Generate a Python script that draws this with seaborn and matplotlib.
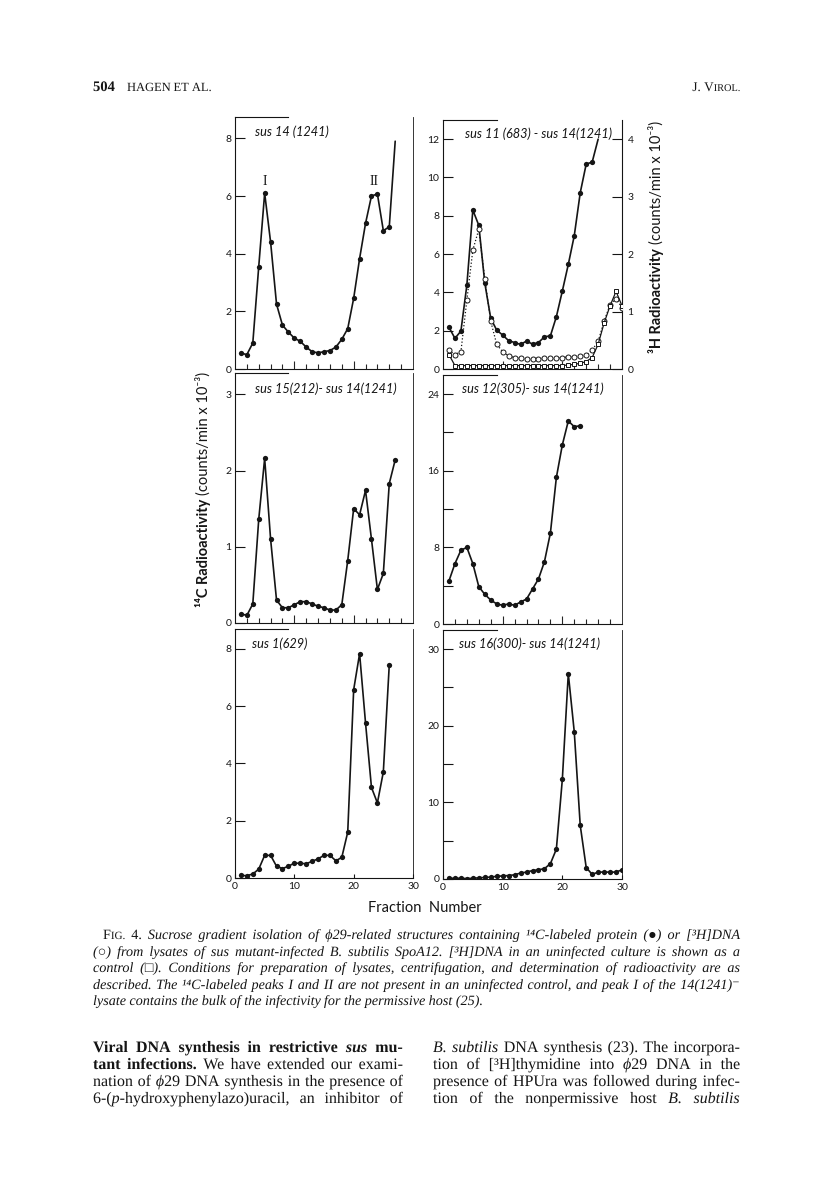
import matplotlib
matplotlib.use('Agg')
import matplotlib.pyplot as plt
import matplotlib.patheffects as pe
import seaborn as sns

# values (counts/min x 10^-3 per fraction)
frac_14 = list(range(1, 28))
c14_sus14 = [0.55, 0.5, 0.9, 3.55, 6.1, 4.4, 2.25, 1.52, 1.28, 1.07, 0.96, 0.76, 0.6, 0.56, 0.6,
             0.64, 0.76, 1.03, 1.4, 2.45, 3.83, 5.05, 6.0, 6.07, 4.8, 4.93, 7.9]

frac_11 = list(range(1, 27))
c14_sus11 = [2.18, 1.6, 1.98, 4.38, 8.3, 7.5, 4.5, 2.64, 2.03, 1.77, 1.48, 1.38, 1.28, 1.46, 1.3,
             1.38, 1.68, 1.73, 2.73, 4.07, 5.46, 6.96, 9.2, 10.7, 10.8, 12.0]
frac_3h = list(range(1, 31))
h3_sus11 = [0.33, 0.25, 0.3, 1.2, 2.07, 2.43, 1.57, 0.83, 0.43, 0.3, 0.23, 0.2, 0.19, 0.18, 0.18,
            0.18, 0.19, 0.19, 0.19, 0.2, 0.21, 0.21, 0.23, 0.24, 0.33, 0.48, 0.83, 1.12, 1.22, 1.07]
h3_control = [0.25, 0.06, 0.06, 0.06, 0.06, 0.06, 0.06, 0.06, 0.06, 0.06, 0.06, 0.06, 0.06, 0.06, 0.06,
              0.06, 0.06, 0.06, 0.06, 0.06, 0.07, 0.08, 0.1, 0.13, 0.2, 0.43, 0.8, 1.1, 1.35, 1.1]

frac_15 = list(range(1, 28))
c14_sus15 = [0.12, 0.1, 0.25, 1.36, 2.16, 1.1, 0.3, 0.2, 0.2, 0.24, 0.28, 0.28, 0.25, 0.22, 0.2,
             0.17, 0.17, 0.24, 0.82, 1.5, 1.42, 1.74, 1.1, 0.44, 0.65, 1.83, 2.14]

frac_12 = list(range(1, 24))
c14_sus12 = [4.5, 6.3, 7.7, 8.0, 6.3, 3.9, 3.1, 2.5, 2.1, 1.95, 2.1, 1.95, 2.3, 2.6, 3.65,
             4.7, 6.5, 9.5, 15.3, 18.7, 21.2, 20.6, 20.7]

frac_1 = list(range(1, 27))
c14_sus1 = [0.09, 0.08, 0.14, 0.31, 0.79, 0.79, 0.41, 0.33, 0.41, 0.52, 0.51, 0.5, 0.58, 0.67, 0.79,
            0.79, 0.6, 0.72, 1.6, 6.57, 7.83, 5.41, 3.16, 2.62, 3.7, 7.44]

frac_16 = list(range(1, 31))
c14_sus16 = [0.1, 0.1, 0.1, 0.05, 0.1, 0.15, 0.2, 0.25, 0.35, 0.4, 0.45, 0.55, 0.78, 0.9, 1.1,
             1.2, 1.35, 2.0, 3.9, 13.0, 26.8, 19.2, 7.0, 1.5, 0.6, 0.9, 0.9, 0.9, 0.9, 1.2]

titles = ['sus 14 (1241)', 'sus 11 (683) - sus 14(1241)', 'sus 15(212)- sus 14(1241)',
          'sus 12(305)- sus 14(1241)', 'sus 1(629)', 'sus 16(300)- sus 14(1241)']

sns.set_style('white')
plt.rcParams['font.family'] = ['Lato', 'DejaVu Sans']
plt.rcParams['axes.linewidth'] = 0.8
SERIF = ['Liberation Serif', 'DejaVu Serif', 'DejaVu Sans']
INK = '#151515'

W, H = 816, 1196
fig = plt.figure(figsize=(W / 100, H / 100), dpi=100)


def page_axes(x0, y0, x1, y1):
    return fig.add_axes([x0 / W, 1 - y1 / H, (x1 - x0) / W, (y1 - y0) / H])


def ptext(x, y, s, **kw):
    return fig.text(x / W, 1 - y / H, s, color=INK, **kw)


def curve(ax, x, y, n_marked=None, **kw):
    n = len(x) if n_marked is None else n_marked
    sns.lineplot(x=x, y=y, ax=ax, color=INK, linewidth=1.2, marker='o', markersize=3.8,
                 markeredgewidth=0, markevery=list(range(n)), **kw)


def style(ax, ymax, yticks, ylabels, bottom):
    ax.set_xlim(0, 30)
    ax.set_ylim(0, ymax)
    ax.set_yticks(yticks)
    ax.set_yticklabels(ylabels)
    ax.set_xlabel('')
    ax.set_ylabel('')
    ax.tick_params(axis='y', direction='in', length=7, width=0.8, pad=2.5,
                   labelsize=7.5, colors=INK, left=True)
    if bottom:
        ax.set_xticks([0, 10, 20, 30])
        ax.set_xticklabels(['0', '10', '20', '30'])
        ax.tick_params(axis='x', direction='in', length=3, width=0.8, pad=3,
                       labelsize=7.5, colors=INK, bottom=True)
    else:
        ax.set_xticks([10, 20])
        ax.set_xticklabels([])
        ax.set_xticks(range(2, 30, 2), minor=True)
        ax.tick_params(axis='x', which='major', direction='in', length=6, width=0.8, bottom=True)
        ax.tick_params(axis='x', which='minor', direction='in', length=3.5, width=0.8, bottom=True)
    for s in ax.spines.values():
        s.set_color(INK)
    ax.spines['top'].set_bounds(0, 9)
    ax.spines['right'].set_linewidth(0.6)
    ax.patch.set_alpha(0)


# top left
ax1 = page_axes(235, 117, 413, 369)
curve(ax1, frac_14, c14_sus14, n_marked=26)
style(ax1, 8.74, [0, 2, 4, 6, 8], ['0', '2', '4', '6', '8'], False)
ax1.text(5, 6.5, 'I', family='Liberation Serif', fontsize=10, ha='center', va='center', color=INK)
ax1.text(23.5, 6.5, 'II', family='Liberation Serif', fontsize=10, ha='center', va='center', color=INK)

# top right (14C left axis, 3H right axis)
ax2 = page_axes(443, 120, 622, 369)
curve(ax2, frac_11, c14_sus11, n_marked=25)
style(ax2, 13.0, range(0, 13, 2), [str(v) for v in range(0, 13, 2)], False)
ax2r = ax2.twinx()
sns.lineplot(x=frac_3h, y=h3_sus11, ax=ax2r, color=INK, linewidth=0.9, linestyle=':',
             marker='o', markersize=3.6, markerfacecolor='white', markeredgecolor=INK,
             markeredgewidth=0.7)
sns.lineplot(x=frac_3h, y=h3_control, ax=ax2r, color=INK, linewidth=0.9, linestyle='-',
             marker='s', markersize=3.2, markerfacecolor='white', markeredgecolor=INK,
             markeredgewidth=0.7)
ax2r.set_ylim(0, 13.0 / 3)
ax2r.set_yticks([0, 1, 2, 3, 4])
ax2r.set_yticklabels(['0', '1', '2', '3', '4'])
ax2r.set_ylabel('')
ax2r.tick_params(axis='y', direction='in', length=7, width=0.8, pad=4, labelsize=7.5,
                 colors=INK, right=True)
for s in ax2r.spines.values():
    s.set_visible(False)
ax2.spines['right'].set_linewidth(0.8)

# middle
ax3 = page_axes(235, 373, 413, 623)
curve(ax3, frac_15, c14_sus15)
style(ax3, 3.28, [0, 1, 2, 3], ['0', '1', '2', '3'], False)

ax4 = page_axes(443, 375, 622, 624)
curve(ax4, frac_12, c14_sus12)
style(ax4, 26.0, [0, 4, 8, 12, 16, 20, 24], ['0', '', '8', '', '16', '', '24'], False)

# bottom
ax5 = page_axes(235, 629, 413, 878)
curve(ax5, frac_1, c14_sus1)
style(ax5, 8.69, [0, 2, 4, 6, 8], ['0', '2', '4', '6', '8'], True)

ax6 = page_axes(443, 630, 622, 879)
curve(ax6, frac_16, c14_sus16)
style(ax6, 32.5, range(0, 31, 5), ['0', '', '10', '', '20', '', '30'], True)

# panel titles
for (x, y), t in zip([(255, 132), (465, 134), (255, 389), (462, 389), (252, 644), (459, 644)], titles):
    ptext(x, y, t, fontsize=9.2, style='italic', va='center', ha='left')

# axis labels
ptext(203, 499, '¹⁴C Radioactivity', fontsize=10.5, weight='bold', rotation=90, ha='center', va='top')
ptext(203, 495, '(counts/min x 10⁻³)', fontsize=10.5, rotation=90, ha='center', va='bottom')
ptext(656, 248, '³H Radioactivity', fontsize=10.5, weight='bold', rotation=90, ha='center', va='top')
ptext(656, 244, '(counts/min x 10⁻³)', fontsize=10.5, rotation=90, ha='center', va='bottom')
ptext(425, 908, 'Fraction  Number', fontsize=10.5, ha='center', va='center')

renderer = fig.canvas.get_renderer()


def put_line(words, x0, x1, y, size, style='normal', weight='normal', justify=True, right=False):
    groups = []
    for w in words:
        pieces = w if isinstance(w, list) else [(w, {})]
        g = []
        for s, kw in pieces:
            fam = 'Liberation Serif' if all(ord(c) < 256 for c in s) else SERIF
            # drawn as paths so every word sits on the same baseline
            t = ptext(0, y, s, family=fam, fontsize=kw.get('size', size),
                      style=kw.get('style', style), weight=kw.get('weight', weight),
                      va='baseline', ha='left', path_effects=[pe.Normal()])
            g.append(t)
        groups.append(g)
    widths = [[t.get_window_extent(renderer).width for t in g] for g in groups]
    total = sum(sum(ws) for ws in widths)
    gap = size * 100 / 72 * 0.25
    if justify and len(groups) > 1:
        gap = (x1 - x0 - total) / (len(groups) - 1)
    x = x0
    if right:
        x = x1 - total - gap * (len(groups) - 1)
    for g, ws in zip(groups, widths):
        for t, w in zip(g, ws):
            t.set_x(x / W)
            x += w
        x += gap


# page header
hs = 9.5
put_line([[('504', {'weight': 'bold', 'size': 10.5})]], 93, 140, 91, hs, justify=False)
put_line(['HAGEN', 'ET', 'AL.'], 127, 260, 91, 9, justify=False)
put_line([[('J.', {})], [('V', {}), ('IROL.', {'size': hs * 0.78})]], 600, 740, 91, hs,
         justify=False, right=True)

# caption
cs = 10.2
up = {'style': 'normal'}
cap1 = [[('F', up), ('IG.', {'style': 'normal', 'size': cs * 0.78})], [('4.', up)]] + \
    'Sucrose gradient isolation of ϕ29-related structures containing ¹⁴C-labeled protein (●) or [³H]DNA'.split()
cap2 = '(○) from lysates of sus mutant-infected B. subtilis SpoA12. [³H]DNA in an uninfected culture is shown as a'.split()
cap3 = 'control (□). Conditions for preparation of lysates, centrifugation, and determination of radioactivity are as'.split()
cap4 = 'described. The ¹⁴C-labeled peaks I and II are not present in an uninfected control, and peak I of the 14(1241)⁻'.split()
cap5 = 'lysate contains the bulk of the infectivity for the permissive host (25).'.split()
put_line(cap1, 103, 740, 939, cs, style='italic')
put_line(cap2, 93, 740, 956, cs, style='italic')
put_line(cap3, 93, 740, 972, cs, style='italic')
put_line(cap4, 93, 740, 989, cs, style='italic')
put_line(cap5, 93, 740, 1005, cs, style='italic', justify=False)

# body text, two columns
bs = 11.5
bold = {'weight': 'bold'}
ital = {'style': 'italic'}
left_col = [
    ['Viral', 'DNA', 'synthesis', 'in', 'restrictive', [('sus', {'weight': 'bold', 'style': 'italic'})], 'mu-'],
    [[('tant', bold)], [('infections.', bold)], 'We', 'have', 'extended', 'our', 'exami-'],
    ['nation', 'of', [('ϕ', ital), ('29', {})], 'DNA', 'synthesis', 'in', 'the', 'presence', 'of'],
    [[('6-(', {}), ('p', ital), ('-hydroxyphenylazo)uracil,', {})], 'an', 'inhibitor', 'of'],
]
right_col = [
    [[('B.', ital)], [('subtilis', ital)], 'DNA', 'synthesis', '(23).', 'The', 'incorpora-'],
    ['tion', 'of', '[³H]thymidine', 'into', [('ϕ', ital), ('29', {})], 'DNA', 'in', 'the'],
    ['presence', 'of', 'HPUra', 'was', 'followed', 'during', 'infec-'],
    ['tion', 'of', 'the', 'nonpermissive', 'host', [('B.', ital)], [('subtilis', ital)]],
]
for i, words in enumerate(left_col):
    put_line(words, 93, 403, 1052 + 17 * i, bs, weight='bold' if i == 0 else 'normal')
for i, words in enumerate(right_col):
    put_line(words, 433, 740, 1052 + 17 * i, bs)

fig.savefig('out.png', dpi=100, facecolor='white')
